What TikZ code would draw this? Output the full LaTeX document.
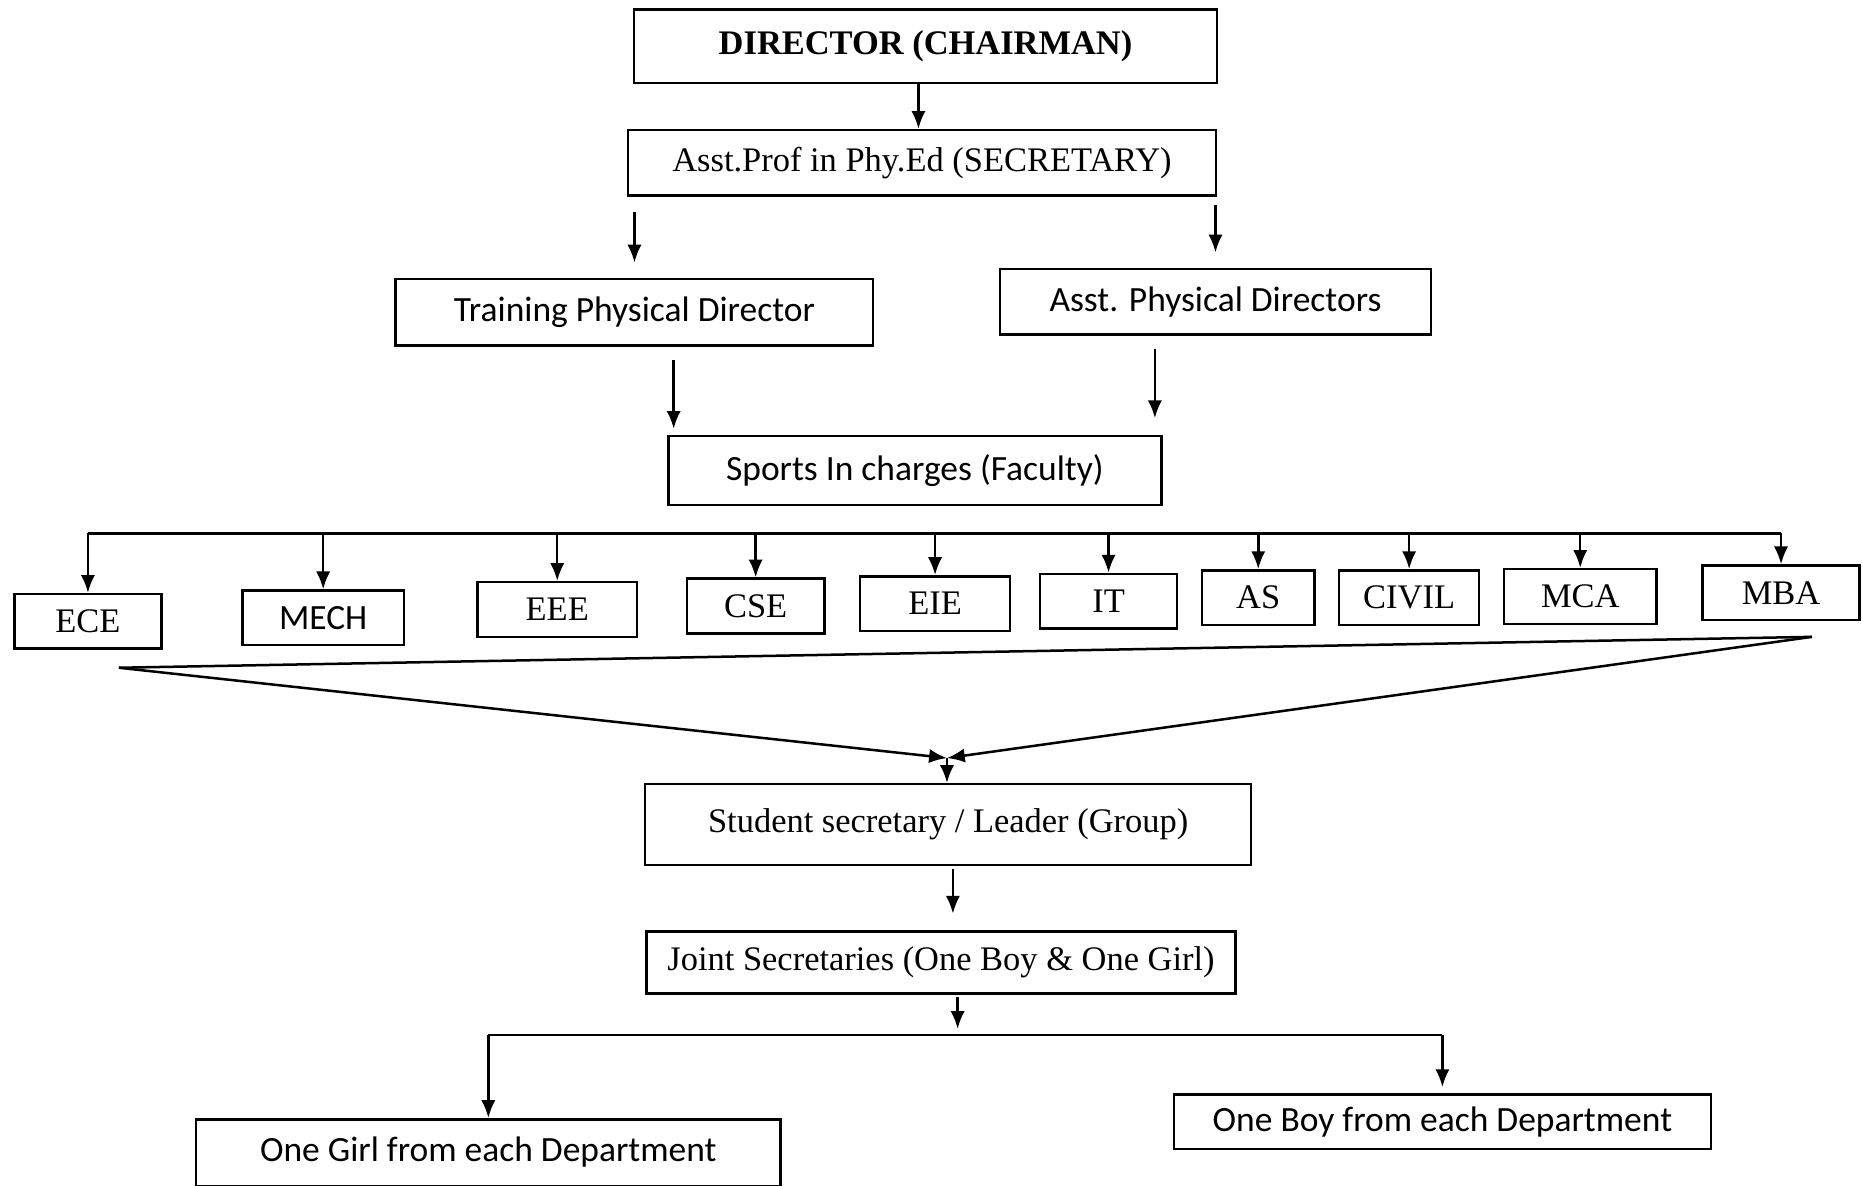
\documentclass[tikz,border=0pt]{standalone}
\usepackage{fontspec}
\setmainfont{Liberation Serif}
\newfontfamily\calibri{Carlito}
\usetikzlibrary{arrows.meta}
\tikzset{
  box/.style={draw, line width=1.2pt, inner sep=0pt, font=\fontsize{16.5}{20}\selectfont},
  sbox/.style={box, font=\calibri\fontsize{17}{20}\selectfont},
  dept/.style={box, minimum height=0.92cm},
}
\begin{document}
\begin{tikzpicture}[x=0.02cm, y=-0.02cm, >={Latex[length=0.3cm,width=0.24cm]}, line width=1.2pt]
  \useasboundingbox (0,0) rectangle (1568,998);

  \node[box, minimum width=9.82cm, minimum height=1.24cm, font=\bfseries\fontsize{16.5}{20}\selectfont] (director) at (779,39) {DIRECTOR (CHAIRMAN)};
  \node[box, minimum width=9.9cm, minimum height=1.1cm] (secretary) at (776,137) {Asst.Prof in Phy.Ed (SECRETARY)};
  \node[sbox, minimum width=8.04cm, minimum height=1.12cm] (training) at (534,263) {Training Physical Director};
  \node[sbox, minimum width=7.26cm, minimum height=1.1cm] (asstpd) at (1023,254) {Asst. Physical Directors};
  \node[sbox, minimum width=8.3cm, minimum height=1.16cm] (incharge) at (770,396) {Sports In charges (Faculty)};

  \draw[->] (director.south -| 773,0) -- (secretary.north -| 773,0);
  \draw[->, shorten <=0.26cm, shorten >=0.26cm] (secretary.south -| training.north) -- (training.north);
  \draw[->, shorten <=0.14cm, shorten >=0.26cm] (secretary.south -| asstpd.north) -- (asstpd.north);
  \draw[->, shorten <=0.22cm, shorten >=0.1cm] ([xshift=0.66cm]training.south) -- ([xshift=0.66cm]training.south |- incharge.north);
  \draw[->, shorten <=0.22cm, shorten >=0.28cm] ([xshift=-1.02cm]asstpd.south) -- ([xshift=-1.02cm]asstpd.south |- incharge.north);

  % Departments
  \node[dept, minimum width=2.48cm] (ECE)   at (74,523)   {ECE};
  \node[dept, sbox, minimum width=2.72cm] (MECH) at (272,520) {MECH};
  \node[dept, minimum width=2.68cm] (EEE)   at (469,513)  {EEE};
  \node[dept, minimum width=2.32cm] (CSE)   at (636,510)  {CSE};
  \node[dept, minimum width=2.52cm] (EIE)   at (787,508)  {EIE};
  \node[dept, minimum width=2.3cm]  (IT)    at (933,506)  {IT};
  \node[dept, minimum width=1.9cm]  (AS)    at (1059,503) {AS};
  \node[dept, minimum width=2.36cm] (CIVIL) at (1186,503) {CIVIL};
  \node[dept, minimum width=2.56cm] (MCA)   at (1330,502) {MCA};
  \node[dept, minimum width=2.64cm] (MBA)   at (1499,499) {MBA};

  \coordinate (bus) at (0,449);
  \draw (ECE.north |- bus) -- (MBA.north |- bus);
  \foreach \d in {ECE,MECH,EEE,CSE,EIE,IT,AS,CIVIL,MCA,MBA}
    \draw[->] (\d.north |- bus) -- (\d.north);

  % Funnel to student secretary
  \node[box, minimum width=10.2cm, minimum height=1.36cm] (student) at (798,694) {Student secretary / Leader (Group)};
  \coordinate (fl) at (100,562);
  \coordinate (fr) at (1525,536);
  \coordinate (meet) at (797,638);
  \draw (fl) -- (fr);
  \draw[->] (fl) -- (meet);
  \draw[->] (fr) -- (meet);
  \draw[->] (meet) -- (student.north -| meet);

  \node[box, minimum width=9.92cm, minimum height=1.04cm] (joint) at (792,810) {Joint Secretaries (One Boy \& One Girl)};
  \draw[->, shorten <=0.04cm, shorten >=0.28cm] (student.south -| 802,0) -- (joint.north -| 802,0);

  \node[sbox, minimum width=9.84cm, minimum height=1.12cm] (girl) at (411,970) {One Girl from each Department};
  \node[sbox, minimum width=9.04cm, minimum height=0.92cm] (boy) at (1214,944) {One Boy from each Department};

  \coordinate (bus2) at (0,871);
  \draw[->, shorten <=0.04cm] (joint.south -| 806,0) -- (806,866);
  \draw (girl.north |- bus2) -- (boy.north |- bus2);
  \draw[->] (girl.north |- bus2) -- (girl.north);
  \draw[->, shorten >=0.1cm] (boy.north |- bus2) -- (boy.north);
\end{tikzpicture}
\end{document}
